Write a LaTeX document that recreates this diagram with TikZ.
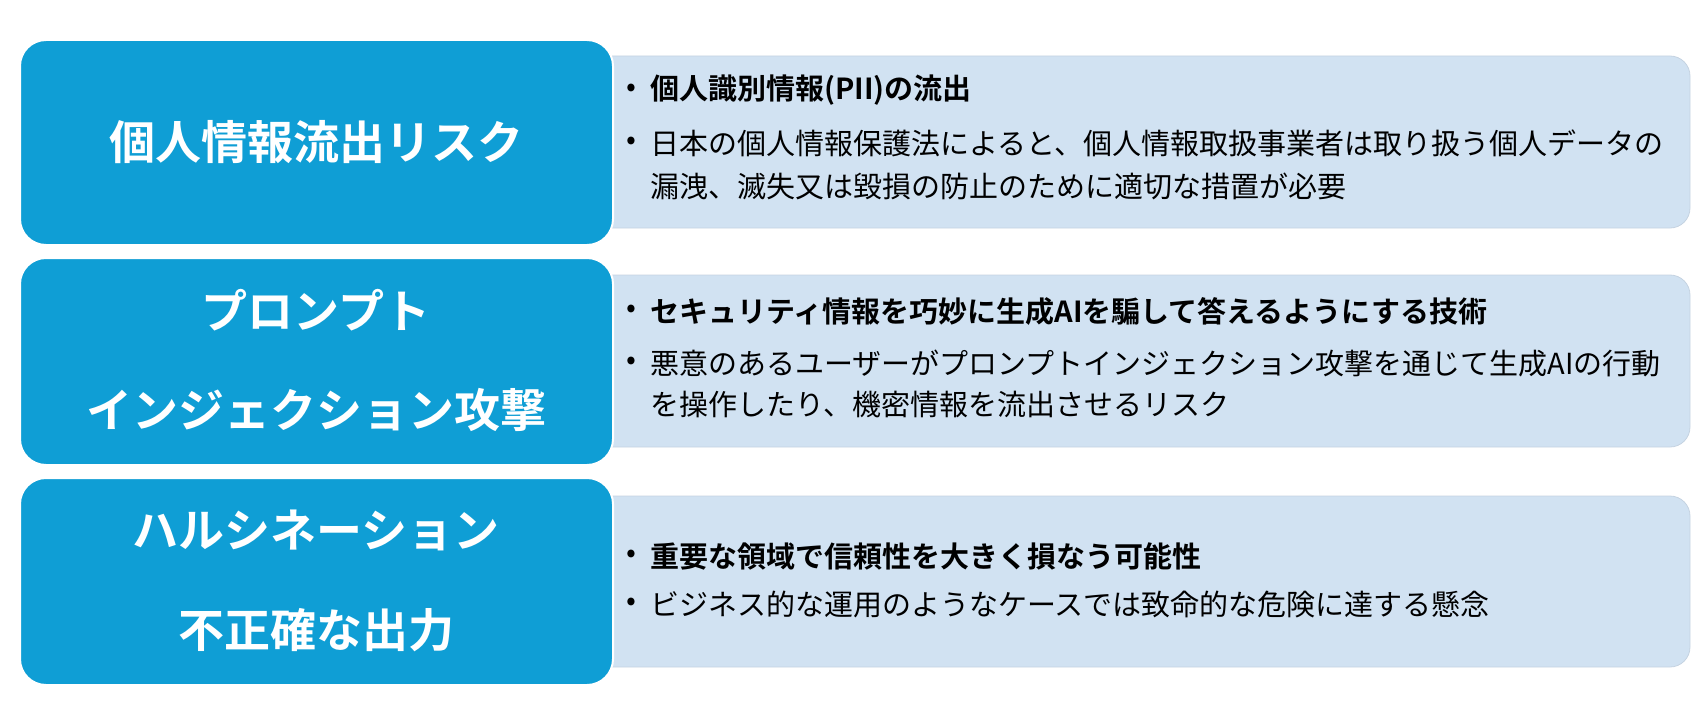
\documentclass[tikz,border=0pt]{standalone}
\usepackage{fontspec}
\newfontfamily\cjk{Noto Sans CJK JP}
\newfontfamily\cjkb{Noto Sans CJK JP Bold}
\definecolor{bluebox}{HTML}{0F9ED5}
\definecolor{lightbox}{HTML}{D1E2F2}
\begin{document}
\begin{tikzpicture}[x=1pt,y=-1pt,
  titlebox/.style={fill=bluebox,draw=white,line width=2pt,rounded corners=26pt},
  infobox/.style={fill=lightbox,draw=lightbox!85!gray,line width=0.8pt,rounded corners=20pt},
  ttl/.style={text=white,font=\cjkb\fontsize{46}{54}\selectfont,anchor=center},
  itm/.style={anchor=west,font=\cjk\fontsize{29}{34}\selectfont,inner sep=0pt},
  itmb/.style={anchor=west,font=\cjkb\fontsize{29}{34}\selectfont,inner sep=0pt}]
\useasboundingbox (0,0) rectangle (1708,706);
% row 1
\path[infobox] (590,56) rectangle (1690,228);
\path[titlebox] (20,40) rectangle (613,245);
\node[ttl] (t1) at (316,142) {個人情報流出リスク};
\node[itm] (b1) at (626,90) {•};
\node[itmb] (a1) at (650,90) {個人識別情報(PII)の流出};
\node[itm] (b2) at (626,143) {•};
\node[itm] (a2) at (650,143) {日本の個人情報保護法によると、個人情報取扱事業者は取り扱う個人データの};
\node[itm] (a3) at (650,186) {漏洩、滅失又は毀損の防止のために適切な措置が必要};
% row 2
\path[infobox] (590,275) rectangle (1690,447);
\path[titlebox] (20,258) rectangle (613,465);
\node[ttl] (t2) at (316,310) {プロンプト};
\node[ttl] (t3) at (316,410) {インジェクション攻撃};
\node[itm] (b3) at (626,311) {•};
\node[itmb] (c1) at (650,311) {セキュリティ情報を巧妙に生成AIを騙して答えるようにする技術};
\node[itm] (b4) at (626,363) {•};
\node[itm] (c2) at (650,363) {悪意のあるユーザーがプロンプトインジェクション攻撃を通じて生成AIの行動};
\node[itm] (c3) at (650,405) {を操作したり、機密情報を流出させるリスク};
% row 3
\path[infobox] (590,496) rectangle (1690,667);
\path[titlebox] (20,478) rectangle (613,685);
\node[ttl] (t4) at (316,530) {ハルシネーション};
\node[ttl] (t5) at (316,630) {不正確な出力};
\node[itm] (b5) at (626,556) {•};
\node[itmb] (d1) at (650,556) {重要な領域で信頼性を大きく損なう可能性};
\node[itm] (b6) at (626,604) {•};
\node[itm] (d2) at (650,604) {ビジネス的な運用のようなケースでは致命的な危険に達する懸念};
\end{tikzpicture}
\end{document}
